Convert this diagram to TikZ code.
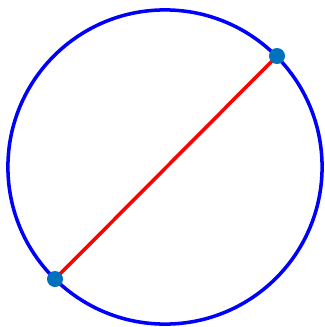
\documentclass[tikz,border=0pt]{standalone}
\usetikzlibrary{positioning}
\definecolor{dotblue}{RGB}{0,114,189}

\begin{document}
\begin{tikzpicture}[x=0.01cm,y=-0.01cm,
  ring/.style={draw=blue,line width=1pt},
  chord/.style={draw=red,line width=1pt},
  pt/.style={circle,fill=dotblue,inner sep=0pt,minimum size=0.16cm}]
\useasboundingbox (0,0) rectangle (325,327);
\coordinate (o) at (165,167);
\coordinate (a) at (55,279);
\coordinate (b) at (277,56);
\draw[ring] (o) circle[radius=1.57cm];
\draw[chord] (a) -- (b);
\node[pt] (pa) at (a) {};
\node[pt] (pb) at (b) {};
\end{tikzpicture}
\end{document}
